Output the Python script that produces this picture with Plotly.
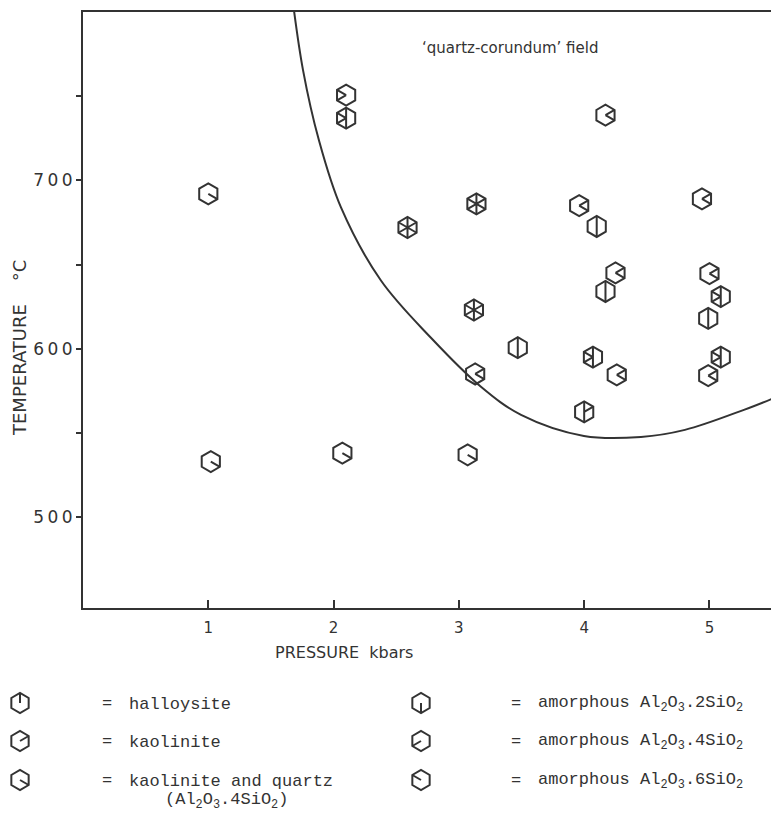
import plotly.graph_objects as go

# ---------------- data ----------------
pressure = [1.0, 1.02, 2.07, 3.07, 2.1, 2.1, 2.59, 3.14, 3.12, 3.13, 3.47, 4.17,
            3.96, 4.1, 4.25, 4.17, 4.07, 4.26, 4.0, 4.94, 5.0, 5.09, 4.99, 5.09, 4.99]
temperature = [692, 533, 538, 537, 750.6, 737, 672, 686, 623, 585, 600.6, 738.7,
               685, 672.6, 645, 634, 595, 584.5, 562.5, 689, 644.6, 631, 618, 595, 584]
phases = ["KQ", "KQ", "KQ", "KQ", "A6+A4", "H+A2+A6+A4", "ALL", "ALL", "ALL", "K+KQ",
          "H+A2", "K+KQ", "K+KQ", "H+A2", "K+KQ", "H+A2", "H+A2+A6+A4", "K+KQ",
          "H+A2+K", "K+KQ", "K+KQ", "H+A2+A6+A4", "H+A2", "H+A2+A6+A4", "K+KQ"]

curve_p = [1.668, 1.756, 1.883, 2.059, 2.378, 2.777, 3.176, 3.496, 3.998, 4.453, 4.804, 5.275, 5.52]
curve_t = [810, 765.5, 723.8, 683.9, 640.5, 606.5, 577.4, 560.7, 548.2, 547.6, 551.8, 563.7, 570.9]

x_ticks = [1, 2, 3, 4, 5]
x_ticklabels = ["1", "2", "3", "4", "5"]
y_ticks = [500, 600, 700]
y_ticklabels = ["5\u20090\u20090", "6\u20090\u20090", "7\u20090\u20090"]
y_minor = [550, 650, 750]

field_label = "\u2018quartz-corundum\u2019 field"
x_title = "PRESSURE  kbars"
y_title = "TEMPERATURE    \u00b0C"

legend_codes = ["H", "K", "KQ", "A2", "A4", "A6"]
legend_labels = ["halloysite", "kaolinite", "kaolinite and quartz",
                 "amorphous Al<sub>2</sub>O<sub>3</sub>.2SiO<sub>2</sub>",
                 "amorphous Al<sub>2</sub>O<sub>3</sub>.4SiO<sub>2</sub>",
                 "amorphous Al<sub>2</sub>O<sub>3</sub>.6SiO<sub>2</sub>"]
legend_extra = "(Al<sub>2</sub>O<sub>3</sub>.4SiO<sub>2</sub>)"

# ---------------- style ----------------
INK = "#333333"
R = 10  # glyph radius in pixels
SPOKE = {  # pixel offsets of hexagon vertices (y positive up)
    "H": (0, R), "A2": (0, -R),
    "K": (0.866 * R, 0.5 * R), "KQ": (0.866 * R, -0.5 * R),
    "A6": (-0.866 * R, 0.5 * R), "A4": (-0.866 * R, -0.5 * R),
}


def spokes(code):
    keys = list(SPOKE) if code == "ALL" else code.split("+")
    return " ".join(f"M0,0L{SPOKE[k][0]:.2f},{SPOKE[k][1]:.2f}" for k in keys)


# page places the figure 8px in from the top-left corner
OFF = 8
PAGE_W, PAGE_H = 779, 824
W, H = PAGE_W - OFF, PAGE_H - OFF
ML, MR, MT, MB = 0, 6, 12 - OFF, 0
plot_w = W - ML - MR
plot_h = H - MT - MB
main_x_dom = [(83 - OFF) / plot_w, 1]
main_y_dom = [(PAGE_H - 608) / plot_h, 1]

fig = go.Figure()

# boundary curve
fig.add_trace(go.Scatter(x=curve_p, y=curve_t, mode="lines",
                         line=dict(color=INK, width=2, shape="spline", smoothing=1.0),
                         hoverinfo="skip", showlegend=False))

# data points (hexagon outlines)
fig.add_trace(go.Scatter(x=pressure, y=temperature, mode="markers",
                         marker=dict(symbol="hexagon-open", size=2 * R + 1, color=INK,
                                     line=dict(color=INK, width=2)),
                         showlegend=False))

shapes = []
for p, t, code in zip(pressure, temperature, phases):
    shapes.append(dict(type="path", xref="x", yref="y", xsizemode="pixel", ysizemode="pixel",
                       xanchor=p, yanchor=t, path=spokes(code), line=dict(color=INK, width=2)))

# legend, drawn on a helper axis scaled in page pixels
leg_sym_x = [20, 20, 20, 421, 421, 421]
leg_sym_y = [703, 741, 780, 703, 741, 780]
leg_eq_x = [100, 100, 100, 509, 509, 509]
leg_txt_x = [127, 127, 127, 536, 536, 536]

fig.add_trace(go.Scatter(x=leg_sym_x, y=leg_sym_y, xaxis="x2", yaxis="y2", mode="markers",
                         marker=dict(symbol="hexagon-open", size=2 * R, color=INK,
                                     line=dict(color=INK, width=2)),
                         hoverinfo="skip", showlegend=False))
for sx, sy, code in zip(leg_sym_x, leg_sym_y, legend_codes):
    shapes.append(dict(type="path", xref="x2", yref="y2", xsizemode="pixel", ysizemode="pixel",
                       xanchor=sx, yanchor=sy, path=spokes(code), line=dict(color=INK, width=2)))

annotations = []
mono = dict(family="Liberation Mono, DejaVu Sans Mono, monospace", size=17, color=INK)
for ex, tx, sy, lab in zip(leg_eq_x, leg_txt_x, leg_sym_y, legend_labels):
    annotations.append(dict(x=ex, y=sy, xref="x2", yref="y2", text="=", showarrow=False,
                            xanchor="left", yanchor="middle", font=mono))
    annotations.append(dict(x=tx, y=sy + 1, xref="x2", yref="y2", text=lab, showarrow=False,
                            xanchor="left", yanchor="middle", font=mono))
annotations.append(dict(x=163, y=801, xref="x2", yref="y2", text=legend_extra, showarrow=False,
                        xanchor="left", yanchor="middle", font=mono))

sans = dict(family="DejaVu Sans, sans-serif", color=INK)
annotations.append(dict(x=344, y=652, xref="x2", yref="y2", text=x_title, showarrow=False,
                        xanchor="center", yanchor="middle", font=dict(**sans, size=16)))
annotations.append(dict(x=19, y=348, xref="x2", yref="y2", text=y_title, showarrow=False, textangle=-90,
                        xanchor="center", yanchor="middle", font=dict(**sans, size=18)))
annotations.append(dict(x=3.41, y=778.5, xref="x", yref="y", text=field_label, showarrow=False,
                        xanchor="center", yanchor="middle", font=dict(**sans, size=15)))

fig.update_layout(
    width=W, height=H, margin=dict(l=ML, r=MR, t=MT, b=MB),
    paper_bgcolor="white", plot_bgcolor="rgba(0,0,0,0)",
    shapes=shapes, annotations=annotations,
    xaxis=dict(domain=main_x_dom, range=[0, 5.507], tickvals=x_ticks, ticktext=x_ticklabels,
               ticks="inside", ticklen=8, tickwidth=1.5, tickcolor=INK, ticklabelstandoff=5,
               showline=True, mirror=True, linecolor=INK, linewidth=2,
               showgrid=False, zeroline=False, tickfont=dict(**sans, size=15), anchor="y"),
    yaxis=dict(domain=main_y_dom, range=[446, 800], tickvals=y_ticks, ticktext=y_ticklabels,
               ticks="outside", ticklen=5, tickwidth=1.5, tickcolor=INK,
               minor=dict(tickvals=y_minor, ticks="outside", ticklen=5, tickwidth=1.5, tickcolor=INK),
               showline=True, mirror=True, linecolor=INK, linewidth=2,
               showgrid=False, zeroline=False, tickfont=dict(**sans, size=17), anchor="x"),
    xaxis2=dict(domain=[0, 1], range=[OFF, PAGE_W - MR], visible=False, anchor="y2"),
    yaxis2=dict(domain=[0, 1], range=[PAGE_H, 12], visible=False, anchor="x2"),
)

fig.write_html("out.html")
